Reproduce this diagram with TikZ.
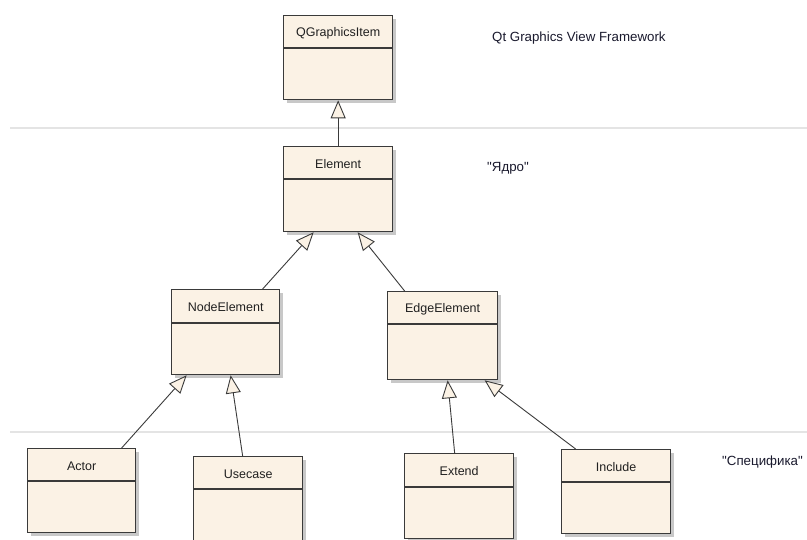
\documentclass[tikz,border=0pt]{standalone}
\usepackage{fontspec}
\setmainfont{Liberation Sans}
\newfontfamily\plainfont{Liberation Sans}
\usetikzlibrary{arrows.meta,shadows,calc}
\definecolor{boxfill}{HTML}{FBF2E5}
\definecolor{boxline}{HTML}{3A3A3A}
\definecolor{shadowgray}{HTML}{C8C8C8}
\definecolor{sepgray}{HTML}{E4E4E4}
\definecolor{labeltext}{HTML}{1A1A2E}
\definecolor{clstext}{HTML}{202020}
\tikzset{
  cls/.style={draw=boxline, fill=boxfill, line width=1.3pt, inner sep=0pt, anchor=north west,
    drop shadow={shadow xshift=3pt, shadow yshift=-3pt, fill=shadowgray, opacity=1}},
  divline/.style={draw=boxline, line width=1.1pt},
  clslabel/.style={font=\fontsize{12.5}{14}\selectfont, text=clstext, inner sep=0pt},
  sidelabel/.style={font=\plainfont\fontsize{13.3}{16}\selectfont, text=labeltext, inner sep=0pt, anchor=west},
  gen/.style={draw=boxline, line width=0.9pt, -{Triangle[length=18pt,width=15pt,fill=boxfill,line width=0.9pt]}},
  sepline/.style={draw=sepgray, line width=1.5pt}
}
\newcommand\umlbox[8]{%
  \node[cls, minimum width=#4pt, minimum height=#5pt] (#1) at (#2,#3) {};
  \draw[divline] ([yshift=-#6pt]#1.north west) -- ([yshift=-#6pt]#1.north east);
  \node[clslabel] (#1-t) at ([yshift=-#7pt]#1.north) {#8};
}
\begin{document}
\begin{tikzpicture}[x=1pt,y=-1pt]
\useasboundingbox[fill=white] (0,0) rectangle (807,540);
\clip (0,0) rectangle (807,540);
% separators
\draw[sepline] (10,128) -- (807,128);
\draw[sepline] (10,432) -- (807,432);
% classes
\umlbox{qgi}{283}{15}{109}{84}{33}{18}{QGraphicsItem}
\umlbox{elem}{283}{146}{109}{85}{33}{18}{Element}
\umlbox{nodeel}{171}{289}{108}{85}{34}{18.5}{NodeElement}
\umlbox{edgeel}{387}{291}{110}{88}{33}{18.5}{EdgeElement}
\umlbox{actor}{27}{448}{108}{84}{33}{18.5}{Actor}
\umlbox{usecase}{193}{456}{109}{86}{33}{18.5}{Usecase}
\umlbox{extend}{404}{453}{109}{85}{34}{18.5}{Extend}
\umlbox{include}{561}{449}{109}{84}{33}{18.5}{Include}
% side labels
\node[sidelabel] (lqt) at (492,38) {Qt Graphics View Framework};
\node[sidelabel] (lcore) at (487,168) {"Ядро"};
\node[sidelabel] (lspec) at (722,462) {"Специфика"};
% generalizations
\draw[gen] (elem.north) -- (qgi.south);
\draw[gen] ([xshift=37pt]nodeel.north) -- ([xshift=-24.5pt]elem.south);
\draw[gen] ([xshift=-38pt]edgeel.north) -- ([xshift=19.5pt]elem.south);
\draw[gen] ([xshift=40pt]actor.north) -- ([xshift=-39pt]nodeel.south);
\draw[gen] ([xshift=-5.5pt]usecase.north) -- ([xshift=5pt]nodeel.south);
\draw[gen] ([xshift=-4.5pt]extend.north) -- ([xshift=5pt]edgeel.south);
\draw[gen] ([xshift=-40.5pt]include.north) -- ([xshift=42pt]edgeel.south);
\end{tikzpicture}
\end{document}
